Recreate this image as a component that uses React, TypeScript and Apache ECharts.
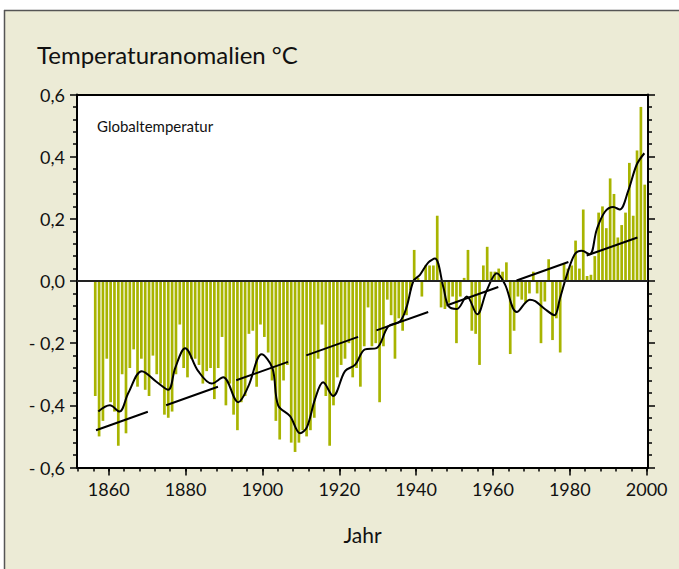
import React, { useEffect, useRef } from "react";
import * as echarts from "echarts";

// Annual global temperature anomalies (°C), 1856–1999
const startYear = 1856;
const anomalies = [
  -0.37, -0.5, -0.45, -0.25, -0.39, -0.42, -0.53, -0.3, -0.49, -0.28,
  -0.22, -0.34, -0.25, -0.35, -0.37, -0.24, -0.3, -0.33, -0.43, -0.44,
  -0.42, -0.3, -0.14, -0.28, -0.31,
  -0.25, -0.25, -0.27, -0.33, -0.29, -0.28, -0.38, -0.28, -0.18, -0.4,
  -0.33, -0.43, -0.48, -0.39, -0.37, -0.17, -0.16, -0.34, -0.14, -0.18,
  -0.23, -0.32, -0.45, -0.51, -0.32, -0.27, -0.52, -0.55, -0.52, -0.48, -0.5,
  -0.48, -0.44, -0.25, -0.14, -0.37, -0.53, -0.4, -0.31, -0.27, -0.25,
  -0.2, -0.31, -0.28, -0.34, -0.21, -0.085, -0.21, -0.2, -0.39, -0.21,
  -0.06, -0.11, -0.25, -0.12, -0.16, -0.11, -0.03, 0.1, 0.01,
  -0.05, 0.05, 0.05, 0.05, 0.21,
  -0.085, -0.09, -0.07, -0.05, -0.2, -0.05, 0.01, 0.1, -0.16, -0.17,
  -0.27, 0.05, 0.11, 0.03, 0.03, 0.04, 0.03, 0.06, -0.235, -0.16,
  -0.05, -0.06, -0.07, -0.04, 0.03, -0.04,
  -0.2, -0.066, 0.07, -0.19, -0.12, -0.23, 0.057, 0.04, 0.05, 0.13,
  0.04, 0.23, 0.016, 0.02, 0.08, 0.22, 0.24, 0.17, 0.33, 0.28,
  0.14, 0.18, 0.22, 0.38, 0.21, 0.42, 0.56, 0.31,
];

// Smoothed curve
const curveYears = [
  1857.3, 1860.3, 1862.8, 1865.1, 1868.6, 1872.5, 1875.5, 1877.3, 1879.9, 1883.3,
  1886.8, 1889.8, 1893.7, 1896.3, 1899.8, 1902.6, 1904.1, 1907.2, 1909.8, 1911.6,
  1913.7, 1915.8, 1918.4, 1921.5, 1924.1, 1926.7, 1929.7, 1932.8, 1935.8, 1937.5,
  1939.3, 1941.0, 1943.2, 1944.9, 1947.1, 1948.4, 1950.6, 1953.2, 1955.9, 1958.4,
  1961.0, 1963.1, 1966.2, 1969.6, 1971.0, 1973.5, 1976.0, 1977.4, 1979.2, 1981.3,
  1983.1, 1985.2, 1987.0, 1989.1, 1991.3, 1993.0, 1995.2, 1997.4, 1999.4,
];
const curveValues = [
  -0.42, -0.4, -0.42, -0.36, -0.29, -0.325, -0.35, -0.28, -0.216, -0.29,
  -0.33, -0.31, -0.39, -0.34, -0.236, -0.28, -0.4, -0.435, -0.49, -0.47,
  -0.38, -0.326, -0.37, -0.29, -0.27, -0.22, -0.216, -0.145, -0.13, -0.085,
  0.0, 0.02, 0.06, 0.072, -0.02, -0.08, -0.09, -0.05, -0.107, -0.03,
  0.025, -0.01, -0.1, -0.06, -0.065, -0.09, -0.11, -0.058, 0.018, 0.086,
  0.097, 0.086, 0.165, 0.222, 0.238, 0.23, 0.29, 0.374, 0.411,
];

// Linear trend (dashed)
const trendYears = [1856.7, 1997.6];
const trendValues = [-0.48, 0.14];

// Axis ticks
const xLabelYears = [1860, 1880, 1900, 1920, 1940, 1960, 1980, 2000];
const xMinorYears = [
  1852, 1856, 1860, 1864, 1868, 1872, 1876, 1880, 1884, 1888, 1892, 1896, 1900,
  1904, 1908, 1912, 1916, 1920, 1924, 1928, 1932, 1936, 1940, 1944, 1948, 1952,
  1956, 1960, 1964, 1968, 1972, 1976, 1980, 1984, 1988, 1992, 1996, 2000,
];

const FONT = "Lato";
const BG = "#ecebd6";

export default function App() {
  const ref = useRef<HTMLDivElement>(null);
  useEffect(() => {
    if (!ref.current) return;
    const chart = echarts.init(ref.current, undefined, { renderer: "svg" });
    const yLabel = (v: number) => {
      const r = Math.round(v * 10) / 10;
      const s = Math.abs(r).toFixed(1).replace(".", ",");
      return r < 0 ? "- " + s : s;
    };
    const commonY = {
      type: "value" as const,
      min: -0.6,
      max: 0.6,
      interval: 0.2,
      axisLine: { show: true, lineStyle: { color: "#000", width: 2 } },
      axisTick: { show: true, length: 7, lineStyle: { color: "#000", width: 1.5 } },
      minorTick: { show: true, splitNumber: 5, length: 4, lineStyle: { color: "#000", width: 1.5 } },
      splitLine: { show: false },
      minorSplitLine: { show: false },
    };
    chart.setOption({
      animation: false,
      backgroundColor: BG,
      title: {
        text: "Temperaturanomalien °C",
        left: 37,
        top: 42,
        padding: 0,
        textStyle: { fontFamily: FONT, fontSize: 24, fontWeight: "normal", color: "#111" },
      },
      graphic: [
        { type: "rect", shape: { x: 0, y: 0, width: 679, height: 10 }, style: { fill: "#fff" }, silent: true },
        { type: "rect", shape: { x: 0, y: 0, width: 4, height: 569 }, style: { fill: "#fff" }, silent: true },
        { type: "line", shape: { x1: 4, y1: 10.5, x2: 679, y2: 10.5 }, style: { stroke: "#555", lineWidth: 1.5 }, silent: true },
        { type: "line", shape: { x1: 4.5, y1: 10, x2: 4.5, y2: 569 }, style: { stroke: "#555", lineWidth: 1.5 }, silent: true },
        {
          type: "text",
          left: 97,
          top: 118,
          style: { text: "Globaltemperatur", fontFamily: FONT, fontSize: 15, fill: "#111" },
          silent: true,
        },
      ],
      grid: {
        left: 77,
        right: 31,
        top: 94.5,
        bottom: 101.5,
        show: true,
        backgroundColor: "#fff",
        borderColor: "#000",
        borderWidth: 0,
      },
      xAxis: [
        {
          type: "value",
          min: 1851.75,
          max: 2000.35,
          position: "bottom",
          name: "Jahr",
          nameLocation: "middle",
          nameGap: 56,
          nameTextStyle: { fontFamily: FONT, fontSize: 21, color: "#111" },
          axisLine: { show: true, onZero: false, lineStyle: { color: "#000", width: 2 } },
          axisTick: { show: true, customValues: xMinorYears, length: 4, lineStyle: { color: "#000", width: 1.5 } },
          axisLabel: {
            customValues: xLabelYears,
            formatter: (v: number) => String(Math.round(v)),
            fontFamily: FONT,
            fontSize: 18,
            color: "#111",
            margin: 12,
          },
          splitLine: { show: false },
        },
        {
          type: "value",
          min: 1851.75,
          max: 2000.35,
          position: "bottom",
          axisLine: { show: false, onZero: false },
          axisTick: { show: true, customValues: xLabelYears, length: 8, lineStyle: { color: "#000", width: 1.5 } },
          axisLabel: { show: false },
          splitLine: { show: false },
        },
        {
          type: "value",
          min: 1851.75,
          max: 2000.35,
          position: "top",
          axisLine: { show: true, onZero: false, lineStyle: { color: "#000", width: 2 } },
          axisTick: { show: false },
          axisLabel: { show: false },
          splitLine: { show: false },
        },
      ],
      yAxis: [
        {
          ...commonY,
          position: "left",
          axisLabel: { formatter: yLabel, fontFamily: FONT, fontSize: 18, color: "#111", margin: 12 },
        },
        {
          ...commonY,
          position: "right",
          axisLabel: { show: false },
        },
      ],
      series: [
        {
          type: "bar",
          xAxisIndex: 0,
          yAxisIndex: 0,
          barWidth: 2.7,
          data: anomalies.map((v, i) => [startYear + i + 0.5, v]),
          itemStyle: { color: "#a8b400" },
          markLine: {
            silent: true,
            symbol: "none",
            label: { show: false },
            lineStyle: { color: "#222", width: 2, type: "solid" },
            data: [{ yAxis: 0 }],
          },
          z: 2,
        },
        {
          type: "line",
          xAxisIndex: 0,
          yAxisIndex: 0,
          data: curveYears.map((y, i) => [y, curveValues[i]]),
          smooth: 0.35,
          symbol: "none",
          lineStyle: { color: "#000", width: 2 },
          z: 4,
        },
        {
          type: "line",
          xAxisIndex: 0,
          yAxisIndex: 0,
          data: trendYears.map((y, i) => [y, trendValues[i]]),
          symbol: "none",
          lineStyle: { color: "#000", width: 2, type: [55, 19.4] },
          z: 5,
        },
      ],
    });
    return () => chart.dispose();
  }, []);
  return (
    <div
      ref={ref}
      style={{ position: "fixed", left: 0, top: 0, width: 679, height: 569 }}
    />
  );
}
